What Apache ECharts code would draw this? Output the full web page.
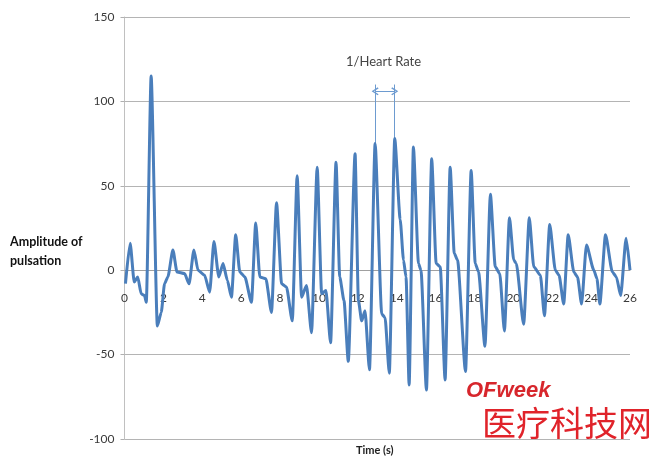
<!DOCTYPE html>
<html><head><meta charset="utf-8">
<script src="https://cdn.jsdelivr.net/npm/echarts@6/dist/echarts.min.js"></script>
<style>html,body{margin:0;padding:0;background:#fff}#c{width:649px;height:461px}</style>
</head><body><div id="c"></div>
<script>
// time (s)
var times = [0.05,0.29,0.5,0.68,0.86,1.03,1.12,1.37,1.69,1.89,2.06,2.23,2.49,2.70,3.09,3.32,3.57,3.78,4.12,4.38,4.60,4.85,5.07,5.29,5.50,5.72,5.93,6.19,6.53,6.75,6.96,7.27,7.56,7.82,8.08,8.33,8.63,8.88,9.11,9.36,9.62,9.91,10.14,10.36,10.60,10.88,11.07,11.29,11.51,11.86,12.03,12.2,12.37,12.6,12.89,13.23,13.4,13.62,13.9,14.18,14.35,14.48,14.64,14.86,15.12,15.25,15.53,15.8,16.03,16.24,16.49,16.75,16.96,17.13,17.54,17.83,18.04,18.21,18.54,18.82,19.07,19.3,19.54,19.8,20.02,20.15,20.53,20.82,21.05,21.39,21.6,21.87,22.16,22.35,22.59,22.82,23.11,23.3,23.51,23.76,24.14,24.3,24.45,24.74,25.09,25.3,25.52,25.8,26.0];
// amplitude of pulsation
var amplitude = [-8,16,-7,-4,-14,-15,-19,115,-33,-25,-8,-4,12,-1,-2,-8,12,0,-3,-13,17,-4,4,-6,-16,21,-1,-4,-19,28,-4,-5,-25,40,-8,-10,-30,56,-16,-9,-37,61,-14,-12,-43,64,-4,-18,-54,69,-18,-30,-24,-59,75,-26,-28,-61,78,30,6,-4,-68,73,4,0,-71,66,4,2,-65,61,10,6,-60,59,4,-1,-45,45,2,-2,-36,31,6,4,-32,31,2,-3,-27,27,0,-3,-20,21,-1,-4,-20,15,0,-5,-20,21,-1,-4,-15,19,0];
var xTicks = [0,2,4,6,8,10,12,14,16,18,20,22,24,26];
var yTicks = [-100,-50,0,50,100,150];
// 1/Heart Rate annotation: two successive peaks
var hrPeakTimes = [12.89, 13.9];
var hrPeakValues = [75, 78];
var hrArrowLevel = 106;
var hrLineTop = 110;

var points = times.map(function(t,i){return [t, amplitude[i]];});
var chevron = 'path://M5,0 L10,8 L8.6,9.2 L5,3 L1.4,9.2 L0,8 Z';
var ff = 'Lato, "Open Sans", sans-serif';
var gridTop = 17, gridBottom = 22, H = 461;
var yMin = yTicks[0], yMax = yTicks[yTicks.length-1];
var plotH = H - gridTop - gridBottom;
var zeroOffset = -plotH * (0 - yMin) / (yMax - yMin);
var chart = echarts.init(document.getElementById('c'));
chart.setOption({
  animation:false,
  backgroundColor:'#fff',
  grid:{left:124.5,right:19,top:gridTop,bottom:gridBottom,containLabel:false},
  xAxis:{type:'value',min:xTicks[0],max:xTicks[xTicks.length-1],interval:2,
    offset:zeroOffset,
    axisLine:{onZero:false,lineStyle:{color:'#a0a0a0',width:1}},
    axisTick:{show:false},
    axisLabel:{margin:22,color:'#3a3a3a',fontSize:12,fontFamily:ff},
    splitLine:{show:false}},
  yAxis:{type:'value',min:yMin,max:yMax,interval:50,
    axisLine:{show:true,onZero:false,lineStyle:{color:'#c0c0c0'}},
    axisTick:{show:true,length:4,lineStyle:{color:'#b0b0b0'}},
    axisLabel:{color:'#3a3a3a',fontSize:12,fontFamily:ff,margin:10},
    splitLine:{lineStyle:{color:'#b4b4b4',width:1}}},
  series:[{type:'line',data:points,smooth:0.2,smoothMonotone:'x',showSymbol:false,z:5,
    lineStyle:{color:'#4a7ebb',width:3},
    markLine:{silent:true,symbol:['none','none'],
      lineStyle:{color:'#6d9bd0',width:1,type:'solid'},
      label:{show:false},
      data:[
        [{coord:[hrPeakTimes[0],hrLineTop]},{coord:[hrPeakTimes[0],hrPeakValues[0]]}],
        [{coord:[hrPeakTimes[1],hrLineTop]},{coord:[hrPeakTimes[1],hrPeakValues[1]]}],
        [{coord:[hrPeakTimes[0],hrArrowLevel],symbol:chevron,symbolSize:[8,7]},
         {coord:[hrPeakTimes[1],hrArrowLevel],symbol:chevron,symbolSize:[8,7]}]
      ]}
  }],
  graphic:[
    {type:'text',left:10,top:232,style:{text:'Amplitude of\npulsation',font:'bold 12.5px '+ff,fill:'#111',lineHeight:19}},
    {type:'text',left:356,top:445,style:{text:'Time (s)',font:'bold 11px '+ff,fill:'#222'}},
    {type:'text',left:466,top:380,style:{text:'OFweek',font:'italic bold 22px "Liberation Sans", sans-serif',fill:'#d7262c'}},
    {type:'text',left:346,top:55,style:{text:'1/Heart Rate',font:'13px '+ff,fill:'#444'}},
    {type:'text',left:482,top:406,style:{text:'医疗科技网',font:'34px "Noto Sans CJK SC"',fill:'#e0232a'}}
  ]
});
</script></body></html>
